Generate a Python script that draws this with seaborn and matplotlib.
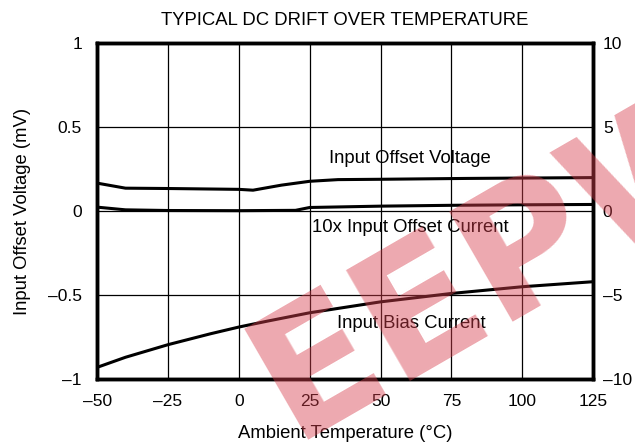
import numpy as np
import pandas as pd
import matplotlib
matplotlib.use("Agg")
import matplotlib.pyplot as plt
import seaborn as sns

# values
vos_temp = [-50, -40, -25, 0, 5, 15, 25, 35, 50, 80, 125]
vos_mv = [0.167, 0.137, 0.135, 0.13, 0.125, 0.155, 0.178, 0.188, 0.19, 0.195, 0.20]

ios_temp = [-50, -40, -25, 0, 20, 25, 50, 75, 100, 125]
ios_x10 = [0.24, 0.08, 0.04, 0.03, 0.05, 0.22, 0.30, 0.35, 0.38, 0.40]

ib_temp = [-50, -40, -25, -10, 0, 10, 25, 50, 75, 100, 125]
ib_na = [-9.3, -8.7, -7.95, -7.3, -6.9, -6.55, -6.05, -5.4, -4.9, -4.5, -4.2]

x_ticks = [-50, -25, 0, 25, 50, 75, 100, 125]
y_ticks = [-1, -0.5, 0, 0.5, 1]
y2_ticks = [-10, -5, 0, 5, 10]

sns.set_style("white")
plt.rcParams['font.family'] = ['Liberation Sans', 'DejaVu Sans']
plt.rcParams['text.color'] = 'black'
plt.rcParams['axes.labelcolor'] = 'black'
plt.rcParams['xtick.color'] = 'black'
plt.rcParams['ytick.color'] = 'black'

fs = 13.3

fig, ax = plt.subplots(figsize=(6.35, 4.46), dpi=100)
fig.subplots_adjust(left=0.153, right=0.934, top=0.903, bottom=0.15)

sns.lineplot(x=vos_temp, y=vos_mv, ax=ax, color='black', linewidth=2.2)
ax.set_xlim(-50, 125)
ax.set_ylim(-1, 1)
ax.set_xticks(x_ticks)
ax.set_xticklabels([str(t).replace('-', '\u2013') for t in x_ticks])
ax.set_yticks(y_ticks)
ax.set_yticklabels(['\u20131', '\u20130.5', '0', '0.5', '1'])
ax.grid(True, color='black', linewidth=0.9)
ax.tick_params(length=0, labelsize=12.5, pad=11)
for s in ax.spines.values():
    s.set_linewidth(2.5)
    s.set_color('black')
ax.set_xlabel('Ambient Temperature (\u00b0C)', fontsize=fs, labelpad=11)
ax.set_ylabel('Input Offset Voltage (mV)', fontsize=fs, labelpad=12)
ax.set_title('TYPICAL DC DRIFT OVER TEMPERATURE', fontsize=fs, pad=13)

ax2 = ax.twinx()
sns.lineplot(x=ios_temp, y=ios_x10, ax=ax2, color='black', linewidth=2.2)
sns.lineplot(x=ib_temp, y=ib_na, ax=ax2, color='black', linewidth=2.2)
ax2.set_ylim(-10, 10)
ax2.set_yticks(y2_ticks)
ax2.set_yticklabels([str(t).replace('-', '\u2013') for t in y2_ticks])
ax2.tick_params(length=0, labelsize=12.5, pad=7)
for s in ax2.spines.values():
    s.set_linewidth(2.5)
    s.set_color('black')

ax.text(60.5, 0.315, 'Input Offset Voltage', fontsize=fs, ha='center', va='center')
ax.text(60.5, -0.095, '10x Input Offset Current', fontsize=fs, ha='center', va='center')
ax.text(61, -0.667, 'Input Bias Current', fontsize=fs, ha='center', va='center')

# watermark
fig.text(0.80, 0.42, 'EEPW', fontsize=125, fontweight='bold', family='DejaVu Sans',
         color='#d8404e', alpha=0.45, rotation=30, ha='center', va='center', zorder=10)

fig.savefig('out.png', dpi=100)
